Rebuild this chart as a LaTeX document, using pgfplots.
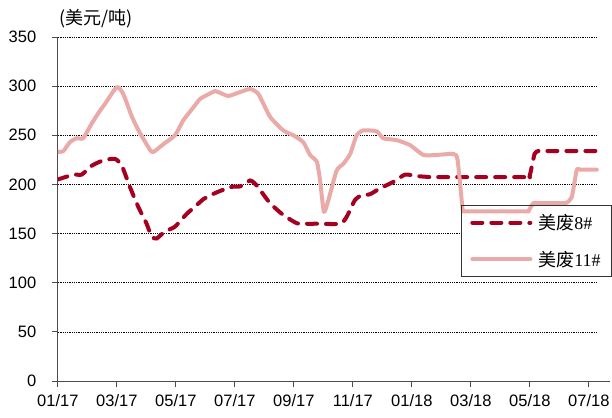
\documentclass[border=0pt]{standalone}
\usepackage{pgfplots}
\pgfplotsset{compat=1.18}
\usepackage{pgfplotstable}
\usepackage{fontspec}
\setmainfont{Liberation Serif}
\newfontfamily\tickfont{Liberation Sans}
\newfontfamily\cjk{Noto Sans CJK SC}
\definecolor{darkred}{RGB}{166,0,33}
\definecolor{pinkline}{RGB}{234,170,168}

% month index: 0 = 01/17, 2 = 03/17, ...
\pgfplotstableread{
m v
0 205
0.53 210
0.81 210
1.15 219
1.54 224.5
1.94 226
2.17 219
2.45 197
2.73 177
3.01 160
3.18 147
3.35 145
3.63 152
3.97 157
4.37 170
4.82 182
4.93 185
5.39 192
5.89 197.5
6.18 198
6.52 204
6.74 199
7.19 181
7.64 169
8.10 160.5
8.40 160
8.78 160
9.57 160
9.79 167
10.07 184
10.30 189
10.58 190
10.92 196
11.37 202.5
11.77 210
12.17 208.5
12.61 207.5
12.80 207.5
15.90 207.5
15.99 208
16.16 231
16.29 234
16.45 234
18.27 234
}\feight

\pgfplotstableread{
m v
0 233
0.19 234
0.41 243
0.64 247
0.86 247
1.15 262
1.43 275
1.60 282
2.00 299
2.22 292
2.51 269
2.79 252
3.13 235
3.24 233
3.58 241
3.97 250
4.25 265
4.48 274
4.82 287
4.93 289
5.33 295
5.44 294
5.78 290
6.18 294
6.52 297
6.80 292
7.19 269
7.64 255
7.98 250
8.32 243
8.55 230
8.78 223
8.89 204
9.02 172
9.17 184
9.45 214
9.68 221
9.91 231
10.13 250
10.36 255
10.81 254
11.03 247
11.49 245
11.94 240
12.39 230
12.84 230
13.41 231
13.55 225
13.72 175
13.78 173
13.88 172.5
15.85 172.5
15.95 173
16.12 181
16.25 181
17.15 181
17.25 181.5
17.42 187
17.59 215
17.70 215
18.27 215
}\feleven

\begin{document}
\begin{tikzpicture}
\begin{axis}[
  scale only axis, width=551.7pt, height=344pt,
  xmin=0, xmax=18.7, ymin=0, ymax=350,
  axis lines=left, axis line style={-, black!70, line width=0.8pt},
  xtick={0,2,...,18},
  xticklabels={01/17,03/17,05/17,07/17,09/17,11/17,01/18,03/18,05/18,07/18},
  ytick={0,50,...,350},
  tick align=outside, major tick length=6pt,
  tick style={black!70, line width=0.8pt},
  /pgf/number format/assume math mode=true,
  yticklabel style={font=\tickfont\fontsize{16.5}{18}\selectfont, xshift=-12pt},
  xticklabel style={font=\tickfont\fontsize{16.5}{18}\selectfont, yshift=-4pt},
  legend style={at={(1.0045,0.512)}, anchor=north east, draw=black!80,
    line width=0.6pt, fill=none, inner xsep=9pt, inner ysep=7pt,
    row sep=16pt, font=\fontsize{18}{20}\selectfont},
  legend cell align=left,
  legend image code/.code={\draw[#1] (0pt,0pt) -- (58pt,0pt); \path (62pt,0pt);},
]
% dotted grid; the 150 line stops where the legend box starts
\pgfplotsinvokeforeach{50,100,200,250,300,350}{
  \draw[black, line width=0.6pt, dash pattern=on 0.8pt off 1pt] (axis cs:0,#1) -- (axis cs:18.27,#1);
}
\draw[black, line width=0.6pt, dash pattern=on 0.8pt off 1pt] (axis cs:0,150) -- (axis cs:13.63,150);
\addplot[darkred, line width=4pt, line cap=round, dash pattern=on 10pt off 9pt, smooth, tension=0.35]
  table[x=m, y=v] {\feight};
\addlegendentry{{\cjk 美废}8\#}
\addplot[pinkline, line width=4pt, line cap=round, line join=round, smooth, tension=0.35]
  table[x=m, y=v] {\feleven};
\addlegendentry{{\cjk 美废}11\#}
\end{axis}
\node[font=\cjk\fontsize{18}{20}\selectfont] at (38pt,362pt) {(美元/吨)};
\pgfresetboundingbox
\path (-57.8pt,-36pt) rectangle (554.2pt,381pt);
\end{tikzpicture}
\end{document}
